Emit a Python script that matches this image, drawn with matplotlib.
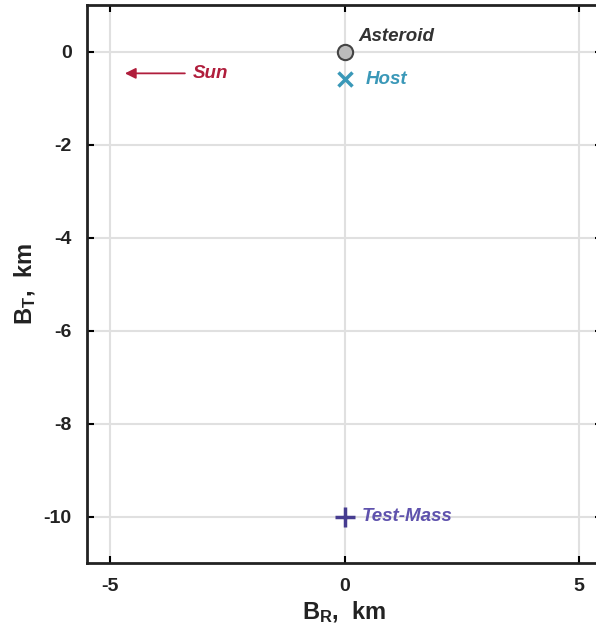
import matplotlib.pyplot as plt

plt.rcParams["font.family"] = ["Liberation Sans", "DejaVu Sans"]
plt.rcParams["font.weight"] = "bold"
plt.rcParams["axes.unicode_minus"] = False
plt.rcParams["mathtext.fontset"] = "custom"
plt.rcParams["mathtext.rm"] = "Liberation Sans:bold"
plt.rcParams["mathtext.bf"] = "Liberation Sans:bold"

# ========= 数据 =========
asteroid_pos = (0.0, 0.0)
host_pos = (0.0, -0.6)
test_mass_pos = (0.0, -10.0)
sun_arrow_start = (-3.35, -0.47)
sun_arrow_end = (-4.75, -0.47)

x_ticks = [-5, 0, 5]
y_ticks = [0, -2, -4, -6, -8, -10]

# ========= 颜色 =========
c_asteroid = "#333333"
c_host = "#3a98b8"
c_test_marker = "#463c90"
c_test = "#5f52ad"
c_sun = "#b01e3c"

fig = plt.figure(figsize=(5.96, 6.3), dpi=100)
ax = fig.add_axes([87 / 596, 1 - 563 / 630, 515 / 596, 558 / 630])

ax.set_xlim(-5.5, 5.5)
ax.set_ylim(-11, 1)
ax.set_xticks(x_ticks)
ax.set_yticks(y_ticks)
ax.grid(True, color="#e0e0e0", linewidth=1.5)
ax.set_axisbelow(True)
ax.tick_params(direction="in", top=True, right=True, length=5, width=1.5,
               labelsize=14, pad=11, labelcolor="#222222")
for s in ax.spines.values():
    s.set_linewidth(2)
    s.set_color("#222222")

# 小行星、主航天器、测试质量
ax.plot(*asteroid_pos, "o", ms=11, mfc="#bbbbbb", mec="#444444", mew=1.5, zorder=5)
ax.plot(*host_pos, "x", ms=10, color=c_host, mew=2.5, zorder=5)
ax.plot(*test_mass_pos, "+", ms=14, color=c_test_marker, mew=2.5, zorder=5)

ax.text(asteroid_pos[0] + 0.3, asteroid_pos[1] + 0.32, "Asteroid", color=c_asteroid,
        fontsize=13.5, style="italic", weight="bold", va="center")
ax.text(host_pos[0] + 0.45, host_pos[1], "Host", color=c_host,
        fontsize=13.5, style="italic", weight="bold", va="center")
ax.text(test_mass_pos[0] + 0.37, test_mass_pos[1], "Test-Mass", color=c_test,
        fontsize=13.5, style="italic", weight="bold", va="center")

# 太阳方向
ax.annotate("", xy=sun_arrow_end, xytext=sun_arrow_start,
            arrowprops=dict(arrowstyle="-|>", color=c_sun, lw=1.3, mutation_scale=16))
ax.text(sun_arrow_start[0] + 0.1, sun_arrow_start[1], "Sun", color=c_sun,
        fontsize=13.5, style="italic", weight="bold", va="center")

ax.set_xlabel(r"$\mathbf{B_R}$,  km", fontsize=17, weight="bold", labelpad=3,
              color="#222222")
ax.set_ylabel(r"$\mathbf{B_T}$,  km", fontsize=17, weight="bold", labelpad=4,
              color="#222222")

fig.savefig("out.png", dpi=100)
